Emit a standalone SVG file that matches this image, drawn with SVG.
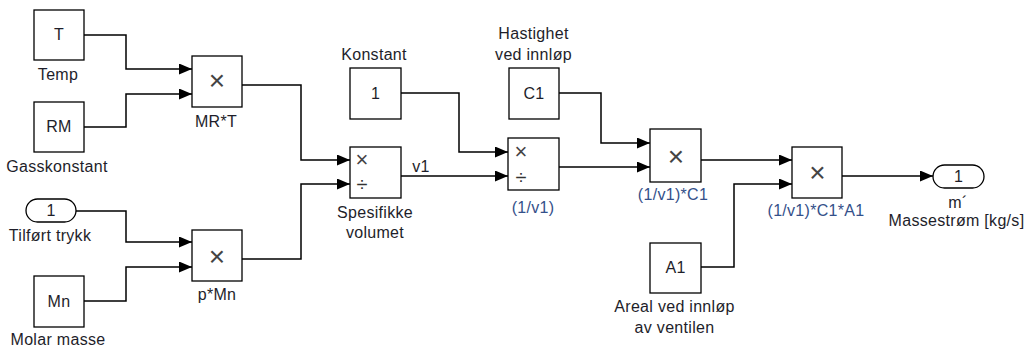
<svg xmlns="http://www.w3.org/2000/svg" width="1025" height="347" viewBox="0 0 1025 347">
<style>
.blk{fill:#fff;stroke:#000;stroke-width:1.3}
.port{fill:#fff;stroke:#000;stroke-width:1.3}
.wire{fill:none;stroke:#000;stroke-width:1.5;marker-end:url(#arr)}
.lbl{font-family:"Liberation Sans",Arial,sans-serif;font-size:16px;fill:#1e1e2a;text-anchor:middle;letter-spacing:0.3px}
.blue{fill:#34508a}
.op{font-family:"Liberation Sans",Arial,sans-serif;font-size:28px;fill:#444;text-anchor:middle}
.ops{font-family:"Liberation Sans",Arial,sans-serif;font-size:22px;fill:#444;text-anchor:middle}
.dv{font-family:"Liberation Sans",Arial,sans-serif;font-size:20px;fill:#333;text-anchor:middle}
</style>
<defs>
<marker id="arr" markerUnits="userSpaceOnUse" markerWidth="14" markerHeight="12" refX="13" refY="5.5" orient="auto">
<path d="M0,0 L13,5.5 L0,11 Z" fill="#000"/>
</marker>
</defs>
<rect width="1025" height="347" fill="#fff"/>
<g id="connectors">
<path class="wire" d="M84,35 H126 V69 H192"/>
<path class="wire" d="M84,127 H126 V94 H192"/>
<path class="wire" d="M76,211 H126 V242 H192"/>
<path class="wire" d="M84,301 H126 V267 H192"/>
<path class="wire" d="M242,85 H301 V160 H350"/>
<path class="wire" d="M242,259 H301 V184 H350"/>
<path class="wire" d="M401,93 H459 V152 H508"/>
<path class="wire" d="M401,176 H508"/>
<path class="wire" d="M559,93 H601 V143 H650"/>
<path class="wire" d="M559,167 H650"/>
<path class="wire" d="M701,160 H792"/>
<path class="wire" d="M701,267 H734 V184 H792"/>
<path class="wire" d="M842,176 H933"/>
<text class="lbl" x="421" y="172">v1</text>
</g>
<g id="T">
<rect class="blk" x="34" y="10" width="50" height="50"/>
<text class="lbl" x="59" y="40">T</text>
<text class="lbl" x="58" y="80">Temp</text>
</g>
<g id="RM">
<rect class="blk" x="34" y="102" width="50" height="50"/>
<text class="lbl" x="59" y="132">RM</text>
<text class="lbl" x="57" y="172">Gasskonstant</text>
</g>
<g id="Inport">
<rect class="port" x="26" y="199" width="50" height="23" rx="11.5" ry="11.5"/>
<text class="lbl" x="51" y="216">1</text>
<text class="lbl" x="50" y="241">Tilført trykk</text>
</g>
<g id="Mn">
<rect class="blk" x="34" y="276" width="50" height="51"/>
<text class="lbl" x="59" y="307">Mn</text>
<text class="lbl" x="58" y="345">Molar masse</text>
</g>
<g id="MRT">
<rect class="blk" x="192" y="56" width="50" height="51"/>
<text class="op" x="217" y="89.5">×</text>
<text class="lbl" x="216" y="127">MR*T</text>
</g>
<g id="pMn">
<rect class="blk" x="192" y="230" width="50" height="51"/>
<text class="op" x="217" y="265.5">×</text>
<text class="lbl" x="217" y="300">p*Mn</text>
</g>
<g id="Konstant">
<rect class="blk" x="350" y="68" width="51" height="51"/>
<text class="lbl" x="375.5" y="99">1</text>
<text class="lbl" x="374" y="60">Konstant</text>
</g>
<g id="Spesifikke">
<rect class="blk" x="350" y="147" width="51" height="51"/>
<text class="ops" x="362" y="167">×</text>
<text class="dv" x="362" y="191">÷</text>
<text class="lbl" x="375" y="218">Spesifikke</text>
<text class="lbl" x="375" y="238">volumet</text>
</g>
<g id="C1">
<rect class="blk" x="509" y="68" width="50" height="51"/>
<text class="lbl" x="534" y="99">C1</text>
<text class="lbl" x="533.5" y="39">Hastighet</text>
<text class="lbl" x="533.5" y="60">ved innløp</text>
</g>
<g id="Inv">
<rect class="blk" x="508" y="138" width="51" height="52"/>
<text class="ops" x="521" y="159">×</text>
<text class="dv" x="521" y="184">÷</text>
<text class="lbl blue" x="533" y="213">(1/v1)</text>
</g>
<g id="InvC1">
<rect class="blk" x="650" y="129" width="51" height="53"/>
<text class="op" x="676" y="165.5">×</text>
<text class="lbl blue" x="673" y="200">(1/v1)*C1</text>
</g>
<g id="A1">
<rect class="blk" x="650" y="243" width="51" height="50"/>
<text class="lbl" x="675.5" y="273">A1</text>
<text class="lbl" x="674.5" y="312">Areal ved innløp</text>
<text class="lbl" x="674.5" y="333">av ventilen</text>
</g>
<g id="InvC1A1">
<rect class="blk" x="792" y="147" width="50" height="51"/>
<text class="op" x="817.5" y="181.5">×</text>
<text class="lbl blue" x="816" y="216">(1/v1)*C1*A1</text>
</g>
<g id="Outport">
<rect class="port" x="933" y="165" width="51" height="23" rx="11.5" ry="11.5"/>
<text class="lbl" x="958.5" y="182">1</text>
<text class="lbl" x="958" y="208">m´</text>
<text class="lbl" x="956.5" y="226">Massestrøm [kg/s]</text>
</g>
</svg>
